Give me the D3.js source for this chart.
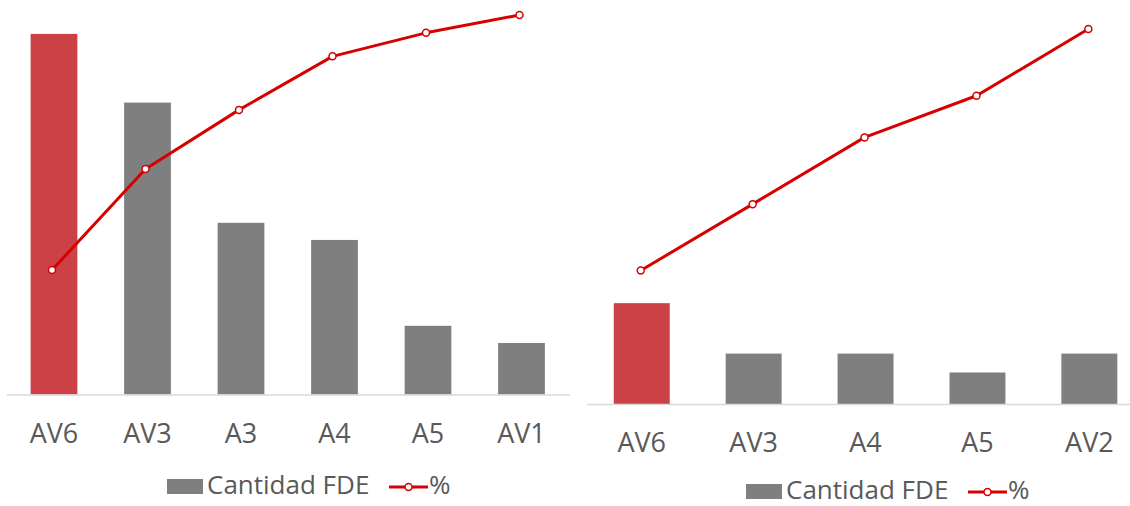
<!DOCTYPE html>
<html>
<head>
<meta charset="utf-8">
<script src="https://cdn.jsdelivr.net/npm/d3@7"></script>
<style>
  body { margin: 0; background: #fff; }
  svg { display: block; font-family: 'Open Sans', sans-serif; }
</style>
</head>
<body>
<div id="chartarea"></div>
<script>
// left chart data
const leftCategories = ['AV6', 'AV3', 'A3', 'A4', 'A5', 'AV1'];
const leftCounts = [21, 17, 10, 9, 4, 3];
const leftPct = [0.328, 0.594, 0.75, 0.891, 0.953, 1.0];

// right chart data
const rightCategories = ['AV6', 'AV3', 'A4', 'A5', 'AV2'];
const rightCounts = [16, 8, 8, 5, 8];
const rightPct = [0.356, 0.533, 0.711, 0.822, 1.0];

const barLabel = 'Cantidad FDE';
const lineLabel = '%';

const red = '#cc4146';
const grey = '#7f7f7f';
const lineRed = '#d60000';
const textColor = '#595959';

const svg = d3.select('#chartarea')
    .append('svg')
        .attr('width', 1130)
        .attr('height', 506);

const drawPareto = (opts) => {
    const g = svg.append('g');

    const x = d3.scaleBand()
        .domain(opts.categories)
        .range(opts.xRange)
        .paddingInner(0.5)
        .paddingOuter(0.25);

    const yPct = d3.scaleLinear()
        .domain([0, 1])
        .range(opts.yRange);

    const yCount = d3.scaleLinear()
        .domain([0, opts.countMax])
        .range(opts.yRange);

    const data = opts.categories.map((c, i) => ({ cat: c, count: opts.counts[i], pct: opts.pct[i] }));

    // bars
    g.selectAll('rect.bar')
        .data(data)
        .enter()
        .append('rect')
        .attr('class', 'bar')
        .attr('x', d => x(d.cat))
        .attr('y', d => yCount(d.count))
        .attr('width', x.bandwidth())
        .attr('height', d => yCount(0) - yCount(d.count))
        .attr('fill', (d, i) => i === 0 ? red : grey);

    // x axis
    const xAxis = d3.axisBottom(x).tickSize(0).tickPadding(0);
    const ax = g.append('g')
        .attr('transform', `translate(0, ${yCount(0)})`)
        .call(xAxis);
    ax.select('.domain')
        .attr('d', `M${opts.axisStart},0.5H${opts.axisEnd}`)
        .attr('stroke', '#d9d9d9')
        .attr('stroke-width', 1.5);
    ax.selectAll('text')
        .attr('y', opts.labelY - yCount(0))
        .attr('dy', 0)
        .attr('font-size', '27px')
        .attr('font-family', "'Open Sans', sans-serif")
        .attr('fill', textColor);

    // cumulative line
    const cx = d => x(d.cat) + x.bandwidth() / 2 + opts.lineShift;
    const line = d3.line()
        .x(cx)
        .y(d => yPct(d.pct));

    g.append('path')
        .datum(data)
        .attr('d', line)
        .attr('fill', 'none')
        .attr('stroke', lineRed)
        .attr('stroke-width', 3)
        .attr('stroke-linejoin', 'round');

    g.selectAll('circle.pt')
        .data(data)
        .enter()
        .append('circle')
        .attr('class', 'pt')
        .attr('cx', cx)
        .attr('cy', d => yPct(d.pct))
        .attr('r', 3.5)
        .attr('fill', '#fff')
        .attr('stroke', lineRed)
        .attr('stroke-width', 1.5);

    // legend
    const lg = g.append('g')
        .attr('transform', `translate(${opts.legendX}, ${opts.legendY})`);
    lg.append('rect')
        .attr('x', 0)
        .attr('y', -7)
        .attr('width', 36)
        .attr('height', 15)
        .attr('fill', grey);
    lg.append('text')
        .attr('x', 40)
        .attr('y', 8)
        .attr('font-size', '26px')
        .attr('fill', textColor)
        .text(barLabel);
    lg.append('line')
        .attr('x1', 222)
        .attr('x2', 261)
        .attr('y1', 1)
        .attr('y2', 1)
        .attr('stroke', lineRed)
        .attr('stroke-width', 3);
    lg.append('circle')
        .attr('cx', 241.5)
        .attr('cy', 1)
        .attr('r', 3.5)
        .attr('fill', '#fff')
        .attr('stroke', lineRed)
        .attr('stroke-width', 1.5);
    lg.append('text')
        .attr('x', 262)
        .attr('y', 8)
        .attr('font-size', '26px')
        .attr('fill', textColor)
        .text(lineLabel);
};

drawPareto({
    categories: leftCategories,
    counts: leftCounts,
    pct: leftPct,
    countMax: 22.1,
    xRange: [7.25, 568.25],
    yRange: [394.5, 15],
    axisStart: 7,
    axisEnd: 570,
    labelY: 443,
    lineShift: -2,
    legendX: 167,
    legendY: 486
});

drawPareto({
    categories: rightCategories,
    counts: rightCounts,
    pct: rightPct,
    countMax: 59.5,
    xRange: [585.8, 1145.3],
    yRange: [404, 29],
    axisStart: 587,
    axisEnd: 1130,
    labelY: 452,
    lineShift: -1,
    legendX: 746,
    legendY: 491
});
</script>
</body>
</html>
